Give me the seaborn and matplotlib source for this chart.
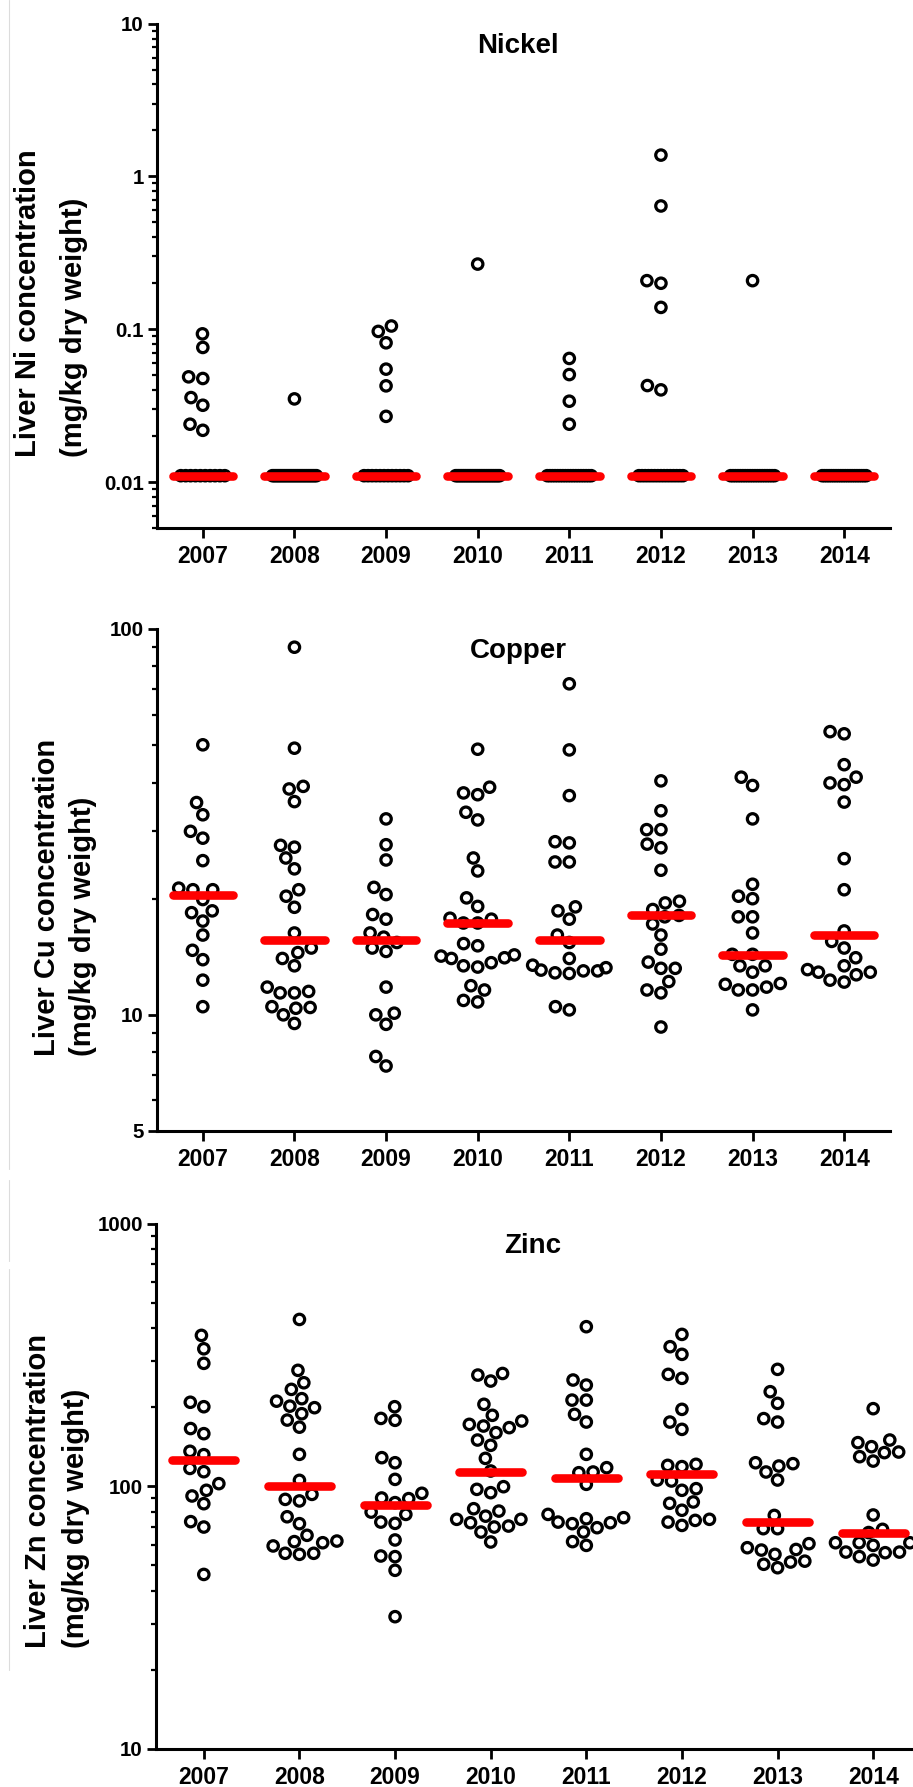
import numpy as np
import pandas as pd
import matplotlib
matplotlib.use("Agg")
import matplotlib.pyplot as plt
from matplotlib.lines import Line2D
from matplotlib.ticker import FixedLocator, FixedFormatter, LogLocator, NullFormatter
import seaborn as sns

# ---------------- data ----------------
years = ["2007", "2008", "2009", "2010", "2011", "2012", "2013", "2014"]

# Nickel: values above detection limit, plus samples at the detection limit
ni_2007 = [0.0760, 0.0933, 0.0488, 0.0476, 0.0357, 0.0318, 0.0239, 0.0218]
ni_2008 = [0.0350]
ni_2009 = [0.0968, 0.105, 0.0815, 0.0548, 0.0426, 0.0269]
ni_2010 = [0.267]
ni_2011 = [0.0644, 0.0505, 0.0338, 0.0239]
ni_2012 = [1.38, 0.641, 0.208, 0.200, 0.139, 0.0428, 0.0401]
ni_2013 = [0.208]
ni_2014 = []
ni_detection_limit = 0.011
ni_below_limit_count = [10, 25, 12, 26, 18, 15, 19, 20]
ni_median = [0.011, 0.011, 0.011, 0.011, 0.011, 0.011, 0.011, 0.011]

cu_2007 = [50.1, 35.5, 33.0, 29.9, 28.7, 25.1, 21.1, 21.1, 21.3, 19.9, 18.4, 18.6, 17.5, 16.1, 14.7, 13.9, 12.3, 10.5]
cu_2008 = [89.7, 49.1, 39.1, 38.5, 35.7, 27.5, 27.2, 25.5, 23.9, 21.1, 20.3, 19.0, 16.3, 14.9, 14.5, 14.0, 13.4,
           11.8, 11.4, 11.4, 11.5, 10.5, 10.4, 10.45, 10.0, 9.5]
cu_2009 = [32.2, 27.6, 25.2, 21.4, 20.5, 18.2, 17.7, 16.3, 15.9, 15.4, 14.9, 14.6, 11.8, 10.0, 10.1, 9.45, 7.8, 7.37]
cu_2010 = [48.8, 37.6, 37.2, 38.9, 33.5, 32.0, 25.5, 23.6, 20.1, 19.1, 17.8, 17.3, 17.3, 17.7, 15.1, 15.3, 14.3,
           14.0, 14.06, 14.2, 13.65, 13.4, 13.3, 11.9, 11.6, 10.8, 10.9]
cu_2011 = [72.1, 48.6, 37.0, 28.1, 27.9, 24.9, 24.9, 18.6, 19.05, 17.7, 16.1, 15.4, 14.0, 13.25, 13.0, 12.8, 13.45,
           13.06, 13.0, 12.85, 10.3, 10.5]
cu_2012 = [40.4, 33.8, 30.2, 30.2, 27.7, 27.1, 23.7, 19.7, 19.5, 18.75, 18.1, 17.95, 17.2, 16.1, 14.8, 13.7, 13.2,
           13.2, 12.2, 11.6, 11.4, 9.3]
cu_2013 = [41.3, 39.3, 32.2, 21.8, 20.3, 20.0, 17.95, 17.95, 16.3, 14.35, 14.35, 13.4, 13.4, 12.9, 12.0, 11.6, 11.6,
           12.06, 11.8, 10.3]
cu_2014 = [53.5, 54.2, 44.5, 41.3, 39.9, 39.5, 35.6, 25.4, 21.1, 16.5, 15.5, 14.9, 14.06, 13.4, 12.9, 12.7, 12.16,
           12.3, 12.9, 13.1]
cu_median = [20.5, 15.6, 15.6, 17.3, 15.6, 18.1, 14.3, 16.1]

zn_2007 = [375.7, 334, 294, 201, 209, 166, 158.7, 132, 136, 113.7, 117, 102.4, 96.6, 91.9, 85.9, 73.4, 70.0, 46.2]
zn_2008 = [432, 276.5, 248, 234, 211, 199.3, 202, 215.7, 189, 178.8, 168, 132.4, 105.4, 93.2, 88.0, 89.2, 76.6,
           72.1, 65.1, 61.0, 61.9, 61.6, 59.3, 55.6, 55.1, 55.6]
zn_2009 = [201, 178.4, 181.4, 128.6, 123, 106.3, 94.1, 89.8, 90.3, 86.7, 79.8, 78.2, 73.1, 72.3, 62.5, 54.0, 54.3,
           47.9, 31.9]
zn_2010 = [269, 251.7, 265.3, 205.3, 186.4, 177.3, 172.2, 167.3, 169.7, 160.1, 150.1, 143.3, 127.8, 114.4, 99.7,
           97.4, 94.6, 82.2, 80.5, 77.0, 74.9, 74.9, 72.7, 70.0, 70.6, 67.0, 61.4]
zn_2011 = [405.4, 254, 243, 213, 213, 188, 175.7, 132.4, 113.4, 112.7, 117.8, 101.8, 76.0, 73.1, 72.1, 69.6, 72.7,
           75.3, 78.2, 67.0, 59.6, 61.6]
zn_2012 = [378.9, 340.2, 318.1, 266.9, 257.8, 196.4, 175.7, 164.8, 121.3, 118.9, 120.2, 104.8, 105.7, 98.0, 96.6,
           87.2, 86.2, 81.1, 74.2, 71.0, 73.1, 74.9]
zn_2013 = [278.9, 229.3, 207, 181.1, 175.7, 122, 113.4, 105.7, 119.5, 123, 77.5, 69.0, 69.0, 57.5, 60.5, 58.4,
           57.2, 55.1, 51.5, 49.0, 50.5, 51.9]
zn_2014 = [197.6, 146.7, 150.1, 141.6, 135.1, 129.7, 124.8, 134.4, 77.8, 68.6, 66.7, 61.0, 61.0, 61.0, 59.6, 56.2,
           56.2, 52.4, 54.0, 55.9]
zn_median = [125.6, 100.0, 84.7, 113.7, 107.9, 111.8, 73.4, 66.3]

ni_detected = [ni_2007, ni_2008, ni_2009, ni_2010, ni_2011, ni_2012, ni_2013, ni_2014]
cu_values = [cu_2007, cu_2008, cu_2009, cu_2010, cu_2011, cu_2012, cu_2013, cu_2014]
zn_values = [zn_2007, zn_2008, zn_2009, zn_2010, zn_2011, zn_2012, zn_2013, zn_2014]


def long_frame(groups):
    rows = [(y, v) for y, vals in zip(years, groups) for v in vals]
    return pd.DataFrame(rows, columns=["year", "value"])


# ---------------- style ----------------
sns.set_style("ticks")
plt.rcParams["font.family"] = ["Liberation Sans", "DejaVu Sans"]
plt.rcParams["font.weight"] = "bold"
for k in ["text.color", "axes.labelcolor", "xtick.color", "ytick.color", "axes.edgecolor"]:
    plt.rcParams[k] = "black"

W, H = 913, 1787
fig = plt.figure(figsize=(W / 100, H / 100), dpi=100)


def add_axes_px(left, top, right, bottom):
    return fig.add_axes([left / W, 1 - bottom / H, (right - left) / W, (bottom - top) / H])


MSIZE = 7.5
MLW = 2.3


def style_axis(ax, ylim, majors, labels, title, top_px, height_px, tx):
    ax.set_yscale("log")
    ax.set_ylim(*ylim)
    ax.set_xlim(-0.5, 7.5)
    ax.yaxis.set_major_locator(FixedLocator(majors))
    ax.yaxis.set_major_formatter(FixedFormatter(labels))
    ax.yaxis.set_minor_locator(LogLocator(base=10, subs=np.arange(2, 10)))
    ax.yaxis.set_minor_formatter(NullFormatter())
    for s in ["top", "right"]:
        ax.spines[s].set_visible(False)
    for s in ["left", "bottom"]:
        ax.spines[s].set_linewidth(2.2)
        ax.spines[s].set_color("black")
    ax.tick_params(axis="y", which="major", length=6.5, width=2.0, labelsize=14.8, pad=3)
    ax.tick_params(axis="y", which="minor", length=3.6, width=1.6)
    ax.tick_params(axis="x", which="major", length=7.2, width=2.0, labelsize=16.5, pad=5)
    ax.set_xlabel("")
    ax.set_ylabel("")
    ax.text(tx, 1 - 22 / height_px, title, transform=ax.transAxes, ha="center", va="center",
            fontsize=20, fontweight="bold")


def ylabel(metal_line, x1, x2, bottom_px):
    fig.text(x1 / W, 1 - bottom_px / H, metal_line, rotation=90, ha="center", va="bottom",
             fontsize=21, fontweight="bold")
    fig.text(x2 / W, 1 - bottom_px / H, "(mg/kg dry weight)", rotation=90, ha="center", va="bottom",
             fontsize=21, fontweight="bold")


def swarm(ax, df):
    sns.swarmplot(data=df, x="year", y="value", order=years, ax=ax, size=MSIZE,
                  color="black", facecolor="none", edgecolor="black", linewidth=MLW,
                  zorder=3, warn_thresh=1.0)


def medians(ax, vals):
    pos = np.arange(len(years))
    ax.hlines(vals, pos - 0.33, pos + 0.33, colors="#ff0000", linewidth=6.2,
              capstyle="round", zorder=5)


# ---------------- Nickel ----------------
ax1 = add_axes_px(157, 23.7, 890, 528)
ax1.set_yscale("log")
swarm(ax1, long_frame(ni_detected))
for i, n in enumerate(ni_below_limit_count):
    offs = np.linspace(-0.24, 0.24, n)
    ax1.scatter(i + offs, np.full(n, ni_detection_limit), s=MSIZE ** 2, facecolors="none",
                edgecolors="black", linewidths=MLW, zorder=3)
medians(ax1, ni_median)
style_axis(ax1, (0.005, 10), [0.01, 0.1, 1, 10], ["0.01", "0.1", "1", "10"], "Nickel", 23.7, 504.3, 0.493)
ylabel("Liver Ni concentration", 28, 74, 457)

# ---------------- Copper ----------------
ax2 = add_axes_px(157, 629, 890, 1131)
ax2.set_yscale("log")
swarm(ax2, long_frame(cu_values))
medians(ax2, cu_median)
style_axis(ax2, (5, 100), [5, 10, 100], ["5", "10", "100"], "Copper", 629, 502, 0.493)
ylabel("Liver Cu concentration", 47, 83, 1056)

# ---------------- Zinc ----------------
ax3 = add_axes_px(156, 1223.7, 921, 1749)
ax3.set_yscale("log")
swarm(ax3, long_frame(zn_values))
medians(ax3, zn_median)
style_axis(ax3, (10, 1000), [10, 100, 1000], ["10", "100", "1000"], "Zinc", 1223.7, 525.3, 0.493)
ylabel("Liver Zn concentration", 38, 76, 1648)

# faint panel-border lines at the left edge of the composite
for y0, y1 in [(0, 1169), (1180, 1261), (1269, 1670)]:
    fig.add_artist(Line2D([9 / W, 9 / W], [1 - y0 / H, 1 - y1 / H], transform=fig.transFigure,
                          color="#dcdcdc", linewidth=0.8))

fig.savefig("out.png", dpi=100)
